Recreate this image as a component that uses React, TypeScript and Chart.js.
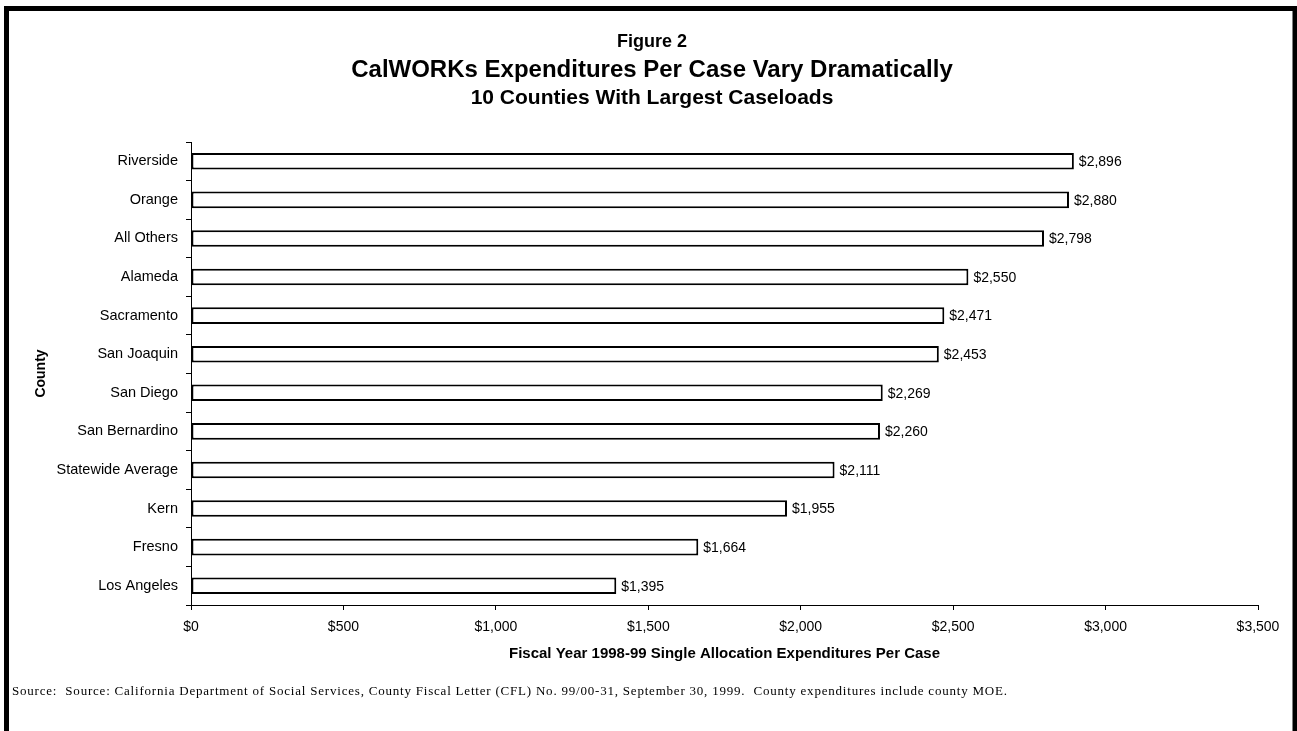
import React, { useEffect, useRef } from "react";
import { Chart, registerables } from "chart.js";

Chart.register(...registerables);

const counties = [
  "Riverside",
  "Orange",
  "All Others",
  "Alameda",
  "Sacramento",
  "San Joaquin",
  "San Diego",
  "San Bernardino",
  "Statewide Average",
  "Kern",
  "Fresno",
  "Los Angeles",
];
const expenditures = [2896, 2880, 2798, 2550, 2471, 2453, 2269, 2260, 2111, 1955, 1664, 1395];

const figureLabel = "Figure 2";
const mainTitle = "CalWORKs Expenditures Per Case Vary Dramatically";
const subTitle = "10 Counties With Largest Caseloads";
const xAxisTitle = "Fiscal Year 1998-99 Single Allocation Expenditures Per Case";
const yAxisTitle = "County";
const sourceNote =
  "Source:  Source: California Department of Social Services, County Fiscal Letter (CFL) No. 99/00-31, September 30, 1999.  County expenditures include county MOE.";

const SANS = "'Liberation Sans', Arial, sans-serif";
const SERIF = "'Liberation Serif', 'Times New Roman', serif";

const fmt = (v: number) => "$" + v.toLocaleString("en-US");

const decorPlugin = {
  id: "decor",
  beforeDraw(chart: any) {
    const ctx = chart.ctx;
    const w = chart.width;
    const h = chart.height;
    ctx.save();
    ctx.fillStyle = "#ffffff";
    ctx.fillRect(0, 0, w, h);
    ctx.strokeStyle = "#000000";
    ctx.lineWidth = 5;
    ctx.strokeRect(6.5, 8.5, w - 8.5, h + 20);
    ctx.restore();
  },
  afterDraw(chart: any) {
    const ctx = chart.ctx;
    const cx = 652;
    ctx.save();
    ctx.fillStyle = "#000000";
    ctx.textAlign = "center";
    ctx.textBaseline = "alphabetic";
    ctx.font = `bold 18px ${SANS}`;
    ctx.fillText(figureLabel, cx, 47);
    ctx.font = `bold 24px ${SANS}`;
    ctx.fillText(mainTitle, cx, 77);
    ctx.font = `bold 21px ${SANS}`;
    ctx.fillText(subTitle, cx, 104);

    ctx.textAlign = "left";
    ctx.font = `13px ${SERIF}`;
    const tw = ctx.measureText(sourceNote).width;
    const extra = Math.max(0, Math.min(1.5, (995 - tw) / (sourceNote.length - 1)));
    (ctx as any).letterSpacing = `${extra.toFixed(2)}px`;
    ctx.fillText(sourceNote, 12, 695);
    (ctx as any).letterSpacing = "0px";
    ctx.restore();
  },
};

const valueLabelPlugin = {
  id: "valueLabels",
  afterDatasetsDraw(chart: any) {
    const ctx = chart.ctx;
    const meta = chart.getDatasetMeta(0);
    const data = chart.data.datasets[0].data;
    ctx.save();
    ctx.fillStyle = "#000000";
    ctx.font = `14px ${SANS}`;
    ctx.textAlign = "left";
    ctx.textBaseline = "middle";
    meta.data.forEach((bar: any, i: number) => {
      ctx.fillText(fmt(data[i]), bar.x + 5, bar.y + 1);
    });
    ctx.restore();
  },
};

export default function App() {
  const ref = useRef<HTMLCanvasElement>(null);

  useEffect(() => {
    if (!ref.current) return;
    const chart = new Chart(ref.current, {
      type: "bar",
      data: {
        labels: counties,
        datasets: [
          {
            data: expenditures,
            backgroundColor: "#ffffff",
            borderColor: "#000000",
            borderWidth: 2,
            borderSkipped: false,
            categoryPercentage: 1,
            barPercentage: 0.43,
          },
        ],
      },
      options: {
        indexAxis: "y",
        animation: false,
        responsive: false,
        maintainAspectRatio: false,
        layout: { padding: { top: 142, right: 39, bottom: 68, left: 26 } },
        plugins: {
          legend: { display: false },
          tooltip: { enabled: false },
          title: { display: false },
        },
        scales: {
          x: {
            min: 0,
            max: 3500,
            afterFit: (s: any) => {
              s.height = 58;
            },
            ticks: {
              stepSize: 500,
              color: "#000000",
              font: { family: SANS, size: 14 },
              padding: 9,
              maxRotation: 0,
              callback: (v: any) => fmt(Number(v)),
            },
            grid: {
              display: true,
              drawOnChartArea: false,
              drawTicks: true,
              tickLength: 5,
              color: "#000000",
            },
            border: { display: true, color: "#000000", width: 1 },
            title: {
              display: true,
              text: xAxisTitle,
              color: "#000000",
              font: { family: SANS, size: 15, weight: "bold" },
              padding: 0,
            },
          },
          y: {
            afterFit: (s: any) => {
              s.width = 165;
            },
            ticks: {
              color: "#000000",
              font: { family: SANS, size: 14.5 },
              padding: 8,
            },
            grid: {
              display: true,
              offset: true,
              drawOnChartArea: false,
              drawTicks: true,
              tickLength: 5,
              color: "#000000",
            },
            border: { display: true, color: "#000000", width: 1 },
            title: {
              display: true,
              text: yAxisTitle,
              color: "#000000",
              font: { family: SANS, size: 14, weight: "bold" },
              padding: { top: 7, bottom: 0 },
            },
          },
        },
      },
      plugins: [decorPlugin, valueLabelPlugin],
    });
    return () => chart.destroy();
  }, []);

  return (
    <div style={{ position: "absolute", left: 0, top: 0, width: 1297, height: 731, background: "#fff" }}>
      <canvas ref={ref} width={1297} height={731} style={{ display: "block", width: 1297, height: 731 }} />
    </div>
  );
}
